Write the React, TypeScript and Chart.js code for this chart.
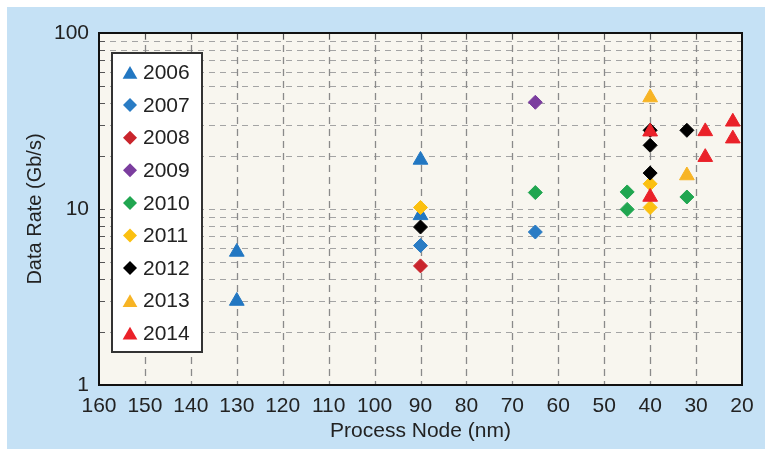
import { useEffect, useRef } from 'react';
import { Chart, registerables } from 'chart.js';

Chart.register(...registerables);

// Process node (nm) and data rate (Gb/s) per publication year
const years = ['2006', '2007', '2008', '2009', '2010', '2011', '2012', '2013', '2014'];

const node2006 = [130, 130, 90, 90];
const rate2006 = [5.7, 3.0, 19, 9.2];
const node2007 = [90, 65];
const rate2007 = [6.2, 7.4];
const node2008 = [90];
const rate2008 = [4.75];
const node2009 = [65];
const rate2009 = [40.4];
const node2010 = [65, 45, 45, 32];
const rate2010 = [12.4, 12.5, 9.95, 11.7];
const node2011 = [90, 40, 40];
const rate2011 = [10.2, 13.9, 10.2];
const node2012 = [90, 40, 40, 40, 32];
const rate2012 = [7.9, 28, 23, 16, 28];
const node2013 = [40, 32];
const rate2013 = [43, 15.5];
const node2014 = [40, 40, 28, 28, 22, 22];
const rate2014 = [27.5, 11.7, 27.6, 19.7, 31.3, 25.1];

const seriesNodes = [node2006, node2007, node2008, node2009, node2010, node2011, node2012, node2013, node2014];
const seriesRates = [rate2006, rate2007, rate2008, rate2009, rate2010, rate2011, rate2012, rate2013, rate2014];

const colors = ['#2277c2', '#2a7cc4', '#c9252c', '#7b3d9e', '#20a650', '#fbc010', '#000000', '#f7b425', '#ea2129'];
const shapes = ['triangle', 'rectRot', 'rectRot', 'rectRot', 'rectRot', 'rectRot', 'rectRot', 'triangle', 'triangle'];

const xTicks = [160, 150, 140, 130, 120, 110, 100, 90, 80, 70, 60, 50, 40, 30, 20];
const yTicks = [1, 2, 3, 4, 5, 6, 7, 8, 9, 10, 20, 30, 40, 50, 60, 70, 80, 90, 100];
const yLabelled = [1, 10, 100];

const FONT = "'Liberation Sans', Arial, sans-serif";

// legend marker, same geometry as the chart's triangle / rectRot point styles
function drawMarker(ctx: CanvasRenderingContext2D, style: string, r: number, x: number, y: number) {
  ctx.beginPath();
  if (style === 'triangle') {
    ctx.moveTo(x, y - r);
    ctx.lineTo(x + r * Math.sin((2 * Math.PI) / 3), y - r * Math.cos((2 * Math.PI) / 3));
    ctx.lineTo(x + r * Math.sin((4 * Math.PI) / 3), y - r * Math.cos((4 * Math.PI) / 3));
  } else {
    ctx.moveTo(x, y - r);
    ctx.lineTo(x + r, y);
    ctx.lineTo(x, y + r);
    ctx.lineTo(x - r, y);
  }
  ctx.closePath();
  ctx.fill();
}

const framePlugin = {
  id: 'frame',
  beforeDraw(chart: any) {
    const { ctx, chartArea: a, width, height } = chart;
    ctx.save();
    ctx.fillStyle = '#ffffff';
    ctx.fillRect(0, 0, width, height);
    ctx.fillStyle = '#c5e1f5';
    ctx.fillRect(7, 7, width - 7, height - 7);
    ctx.fillStyle = '#f8f6ef';
    ctx.fillRect(a.left, a.top, a.right - a.left, a.bottom - a.top);
    ctx.restore();
  },
  beforeDatasetsDraw(chart: any) {
    const { ctx, chartArea: a, scales } = chart;
    ctx.save();
    // dashed grid: horizontal at every log step, vertical every 10 nm
    ctx.setLineDash([6, 5]);
    ctx.strokeStyle = '#a4a4a4';
    ctx.lineWidth = 1;
    ctx.beginPath();
    yTicks.forEach((v) => {
      if (v === 1 || v === 100) return;
      const y = Math.round(scales.y.getPixelForValue(v)) + 0.5;
      ctx.moveTo(a.left, y);
      ctx.lineTo(a.right, y);
    });
    ctx.stroke();
    ctx.setLineDash([7, 5]);
    ctx.strokeStyle = '#8a8a8a';
    ctx.lineWidth = 1.3;
    ctx.beginPath();
    xTicks.forEach((v) => {
      if (v === 160 || v === 20) return;
      const x = Math.round(scales.x.getPixelForValue(v)) + 0.5;
      ctx.moveTo(x, a.top);
      ctx.lineTo(x, a.bottom);
    });
    ctx.stroke();
    ctx.setLineDash([]);
    // short inner ticks along the top and left edges
    ctx.strokeStyle = '#555555';
    ctx.lineWidth = 1;
    ctx.beginPath();
    xTicks.forEach((v) => {
      const x = Math.round(scales.x.getPixelForValue(v)) + 0.5;
      ctx.moveTo(x, a.top);
      ctx.lineTo(x, a.top + 6);
    });
    yTicks.forEach((v) => {
      const y = Math.round(scales.y.getPixelForValue(v)) + 0.5;
      ctx.moveTo(a.left, y);
      ctx.lineTo(a.left + 6, y);
    });
    ctx.stroke();
    ctx.strokeStyle = '#111111';
    ctx.lineWidth = 2;
    ctx.strokeRect(a.left, a.top, a.right - a.left, a.bottom - a.top);
    ctx.restore();
  },
  afterDraw(chart: any) {
    const { ctx } = chart;
    const box = { left: 112, top: 53, right: 202, bottom: 352 };
    ctx.save();
    ctx.fillStyle = '#ffffff';
    ctx.fillRect(box.left, box.top, box.right - box.left, box.bottom - box.top);
    ctx.strokeStyle = '#333333';
    ctx.lineWidth = 2;
    ctx.strokeRect(box.left, box.top, box.right - box.left, box.bottom - box.top);
    ctx.font = `21px ${FONT}`;
    ctx.textBaseline = 'middle';
    ctx.textAlign = 'left';
    years.forEach((label, i) => {
      const y = 72.5 + i * 32.6;
      const style = shapes[i];
      ctx.fillStyle = colors[i];
      const r = style === 'triangle' ? 8.5 : 7;
      const cy = style === 'triangle' ? y + 2 : y;
      drawMarker(ctx, style, r, 130, cy);
      ctx.fillStyle = '#222222';
      ctx.fillText(label, 143, y + 1);
    });
    ctx.restore();
  },
};

export default function App() {
  const canvasRef = useRef<HTMLCanvasElement | null>(null);

  useEffect(() => {
    const canvas = canvasRef.current;
    if (!canvas) return;
    const datasets = years.map((label, i) => ({
      label,
      data: seriesNodes[i].map((x, j) => ({ x, y: seriesRates[i][j] })),
      pointStyle: shapes[i],
      pointRadius: shapes[i] === 'triangle' ? 8.5 : 7,
      pointBackgroundColor: colors[i],
      pointBorderColor: colors[i],
      pointBorderWidth: 1,
      showLine: false,
      order: years.length - i,
    }));

    const chart = new Chart(canvas, {
      type: 'scatter',
      data: { datasets },
      plugins: [framePlugin],
      options: {
        animation: false,
        responsive: false,
        devicePixelRatio: 1,
        layout: { padding: { top: 33, right: 23, left: 0, bottom: 0 } },
        plugins: { legend: { display: false }, tooltip: { enabled: false } },
        scales: {
          x: {
            type: 'linear',
            reverse: true,
            min: 20,
            max: 160,
            afterBuildTicks: (scale: any) => {
              scale.ticks = xTicks.map((value) => ({ value }));
            },
            afterFit: (scale: any) => {
              scale.height = 64;
              scale.paddingLeft = 0;
              scale.paddingRight = 0;
            },
            ticks: {
              autoSkip: false,
              maxRotation: 0,
              padding: 9,
              color: '#222222',
              font: { family: FONT, size: 21 },
            },
            grid: { display: false, drawTicks: false },
            border: { display: false },
            title: {
              display: true,
              text: 'Process Node (nm)',
              color: '#222222',
              font: { family: FONT, size: 21 },
              padding: { top: 0, bottom: 5 },
            },
          },
          y: {
            type: 'logarithmic',
            min: 1,
            max: 100,
            afterBuildTicks: (scale: any) => {
              scale.ticks = yTicks.map((value) => ({ value }));
            },
            afterFit: (scale: any) => {
              scale.width = 99;
              scale.paddingTop = 0;
              scale.paddingBottom = 0;
            },
            ticks: {
              autoSkip: false,
              padding: 10,
              color: '#222222',
              font: { family: FONT, size: 21 },
              callback: (value: any) => (yLabelled.includes(Number(value)) ? String(value) : ''),
            },
            grid: { display: false, drawTicks: false },
            border: { display: false },
            title: {
              display: true,
              text: 'Data Rate (Gb/s)',
              color: '#222222',
              font: { family: FONT, size: 20 },
              padding: { top: 23, bottom: 0 },
            },
          },
        },
      },
    } as any);

    return () => chart.destroy();
  }, []);

  return (
    <div style={{ position: 'absolute', left: 0, top: 0, width: 765, height: 449 }}>
      <canvas ref={canvasRef} width={765} height={449} style={{ display: 'block' }} />
    </div>
  );
}
